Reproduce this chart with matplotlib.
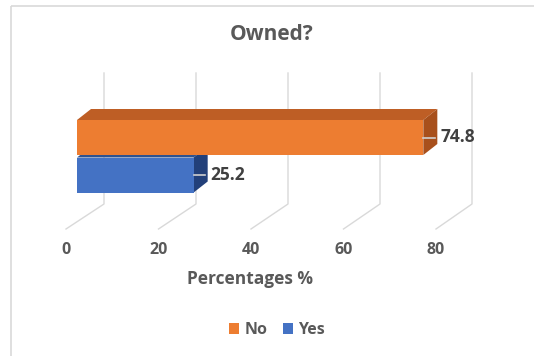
import matplotlib
matplotlib.use("Agg")
import matplotlib.pyplot as plt
from matplotlib.patches import Polygon, Rectangle

# ---- data ----
categories = ["No", "Yes"]
values = [74.8, 25.2]
tick_values = [0, 20, 40, 60, 80]
title = "Owned?"
xlabel = "Percentages %"

front_colors = ["#ED7D31", "#4472C4"]
top_colors = ["#BE5E25", "#2F528F"]
side_colors = ["#A8501C", "#22407A"]
text_gray = "#595959"

W, H = 534, 356
PPU = 4.63          # pixels per percentage unit (bar plane)
X0 = 77             # pixel of 0 on bar plane

def u(px):
    return (px - X0) / PPU

plt.rcParams["font.family"] = ["Open Sans", "DejaVu Sans"]

fig = plt.figure(figsize=(W / 100, H / 100), dpi=100)
ax = fig.add_axes([0, 0, 1, 1])
ax.set_xlim(u(0), u(W))
ax.set_ylim(H, 0)
ax.axis("off")

WEIGHT = "bold"

# chart frame
ax.add_patch(Rectangle((u(11), 6), u(W + 20) - u(11), H + 20, fill=False,
                       edgecolor="#D9D9D9", lw=1.2, zorder=0))

# gridlines (back wall + floor diagonals)
for t in tick_values:
    xb = u(104 + 4.6 * t)
    xf = u(66 + 4.625 * t)
    ax.plot([xb, xb, xf], [73, 204, 229], color="#D9D9D9", lw=1, zorder=1)
    ax.text(xf, 250, str(t), ha="center", va="center", fontsize=11.5,
            fontweight=WEIGHT, color=text_gray)

# bars
bar_h = 35
depth_x = 14 / PPU
depth_y = -11
centers = [137.5 + 37.5 * i for i in range(len(categories))]
n = len(categories)
for i in reversed(range(n)):
    v = values[i]
    yc = centers[i]
    z = 3 + (n - i)
    ax.barh(yc, v, height=bar_h, left=0, color=front_colors[i],
            label=categories[i], zorder=z + 0.5)
    top = yc - bar_h / 2
    bot = yc + bar_h / 2
    ax.add_patch(Polygon([(0, top), (v, top), (v + depth_x, top + depth_y),
                          (depth_x, top + depth_y)], closed=True,
                         facecolor=top_colors[i], edgecolor="none", zorder=z))
    ax.add_patch(Polygon([(v, top), (v + depth_x, top + depth_y),
                          (v + depth_x, bot + depth_y), (v, bot)], closed=True,
                         facecolor=side_colors[i], edgecolor="none", zorder=z))
    ax.plot([v, v + depth_x * 0.8], [yc, yc], color="#D0D0D0", lw=1.2, zorder=z + 0.6)
    ax.text(v + depth_x + 0.6, yc, f"{v}", ha="left", va="center", fontsize=12.5,
            fontweight=WEIGHT, color="#404040", zorder=10)

ax.text(u(272), 35, title, ha="center", va="center", fontsize=15,
        fontweight=WEIGHT, color=text_gray)
ax.text(u(250), 279, xlabel, ha="center", va="center", fontsize=12.5,
        fontweight=WEIGHT, color=text_gray)

handles, labels = ax.get_legend_handles_labels()
order = [labels.index(c) for c in categories]
leg = ax.legend([handles[k] for k in order], [labels[k] for k in order],
                loc="center", bbox_to_anchor=(277 / W, 1 - 330 / H), ncol=2,
                frameon=False, fontsize=11.5, handlelength=0.65, handleheight=0.65,
                handletextpad=0.3, columnspacing=1.0, borderpad=0)
for t in leg.get_texts():
    t.set_color(text_gray)
    t.set_fontweight(WEIGHT)

fig.savefig("out.png", dpi=100, facecolor="white")
